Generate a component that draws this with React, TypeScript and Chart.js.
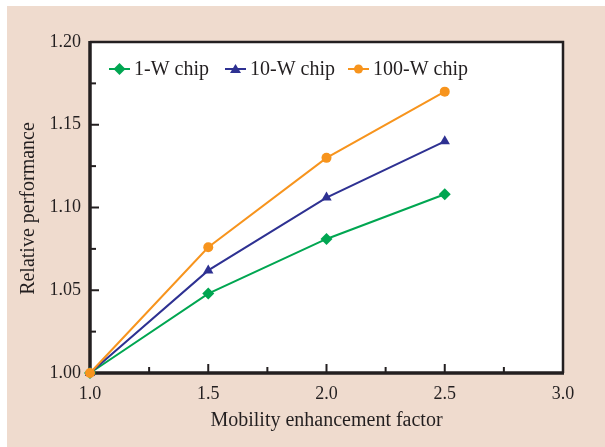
import React, { useEffect, useRef } from "react";
import { Chart, registerables } from "chart.js";

Chart.register(...registerables);

// Mobility enhancement factor (x) and relative performance per chip power
const mobilityFactors = [1.0, 1.5, 2.0, 2.5];
const perf1W = [1.0, 1.048, 1.081, 1.108];
const perf10W = [1.0, 1.062, 1.106, 1.14];
const perf100W = [1.0, 1.076, 1.13, 1.17];
const seriesLabels = ["1-W chip", "10-W chip", "100-W chip"];

const xTicks = [1.0, 1.5, 2.0, 2.5, 3.0];
const yTicks = [1.0, 1.05, 1.1, 1.15, 1.2];
const xMinorTicks = [1.25, 1.75, 2.25, 2.75];
const yMinorTicks = [1.025, 1.075, 1.125, 1.175];

const GREEN = "#00a651";
const BLUE = "#2e3192";
const ORANGE = "#f7941d";
const INK = "#231f20";
const BG = "#efdbce";
const FONT = "'Liberation Serif', 'Times New Roman', serif";

function toPoints(ys: number[]) {
  return mobilityFactors.map((x, i) => ({ x, y: ys[i] }));
}

// Frame, inward tick marks and axis titles
const framePlugin = {
  id: "frame",
  beforeDatasetsDraw(chart: any) {
    const { ctx, chartArea } = chart;
    const { left, right, top, bottom } = chartArea;
    const xs = chart.scales.x;
    const ys = chart.scales.y;
    ctx.save();
    ctx.fillStyle = "#ffffff";
    ctx.fillRect(left, top, right - left, bottom - top);
    ctx.strokeStyle = INK;
    ctx.lineCap = "butt";

    // ticks
    ctx.lineWidth = 2;
    const drawX = (v: number, len: number) => {
      const px = xs.getPixelForValue(v);
      ctx.beginPath();
      ctx.moveTo(px, bottom);
      ctx.lineTo(px, bottom - len);
      ctx.stroke();
    };
    const drawY = (v: number, len: number) => {
      const py = ys.getPixelForValue(v);
      ctx.beginPath();
      ctx.moveTo(left, py);
      ctx.lineTo(left + len, py);
      ctx.stroke();
    };
    xTicks.forEach((v) => drawX(v, 9));
    xMinorTicks.forEach((v) => drawX(v, 6));
    yTicks.forEach((v) => drawY(v, 9));
    yMinorTicks.forEach((v) => drawY(v, 6));

    // top and right border
    ctx.lineWidth = 2.5;
    ctx.beginPath();
    ctx.moveTo(left, top);
    ctx.lineTo(right, top);
    ctx.lineTo(right, bottom);
    ctx.stroke();
    // left and bottom axes
    ctx.lineWidth = 3.5;
    ctx.beginPath();
    ctx.moveTo(left, top - 1);
    ctx.lineTo(left, bottom);
    ctx.lineTo(right + 1, bottom);
    ctx.stroke();

    // axis titles
    ctx.fillStyle = INK;
    ctx.font = `20px ${FONT}`;
    ctx.textAlign = "center";
    ctx.textBaseline = "middle";
    ctx.fillText("Mobility enhancement factor", (left + right) / 2, 415);
    ctx.translate(22, (top + bottom) / 2 + 1);
    ctx.rotate(-Math.PI / 2);
    ctx.fillText("Relative performance", 0, 0);
    ctx.restore();
  },
  afterDraw(chart: any) {
    // legend: short line with marker, then label
    const { ctx } = chart;
    const items = [
      { x: 102, text: seriesLabels[0], ds: 0 },
      { x: 218, text: seriesLabels[1], ds: 1 },
      { x: 341, text: seriesLabels[2], ds: 2 },
    ];
    const y = 63;
    ctx.save();
    items.forEach((it) => {
      const d = chart.data.datasets[it.ds];
      ctx.strokeStyle = d.borderColor;
      ctx.lineWidth = 2;
      ctx.beginPath();
      ctx.moveTo(it.x, y);
      ctx.lineTo(it.x + 21, y);
      ctx.stroke();
      ctx.fillStyle = d.borderColor;
      const cx = it.x + 10.5;
      ctx.beginPath();
      if (d.pointStyle === "rectRot") {
        ctx.moveTo(cx, y - 6);
        ctx.lineTo(cx + 6, y);
        ctx.lineTo(cx, y + 6);
        ctx.lineTo(cx - 6, y);
      } else if (d.pointStyle === "triangle") {
        ctx.moveTo(cx, y - 5);
        ctx.lineTo(cx + 5.5, y + 4);
        ctx.lineTo(cx - 5.5, y + 4);
      } else {
        ctx.arc(cx, y, 4.5, 0, Math.PI * 2);
      }
      ctx.closePath();
      ctx.fill();
      ctx.fillStyle = INK;
      ctx.font = `20px ${FONT}`;
      ctx.textAlign = "left";
      ctx.textBaseline = "middle";
      ctx.fillText(it.text, it.x + 25, y + 1);
    });
    ctx.restore();
  },
};

export default function App() {
  const canvasRef = useRef<HTMLCanvasElement | null>(null);

  useEffect(() => {
    if (!canvasRef.current) return;
    const common = {
      showLine: true,
      borderWidth: 2,
      clip: false as any,
      tension: 0,
    };
    const chart = new Chart(canvasRef.current, {
      type: "scatter",
      data: {
        datasets: [
          {
            ...common,
            label: seriesLabels[0],
            data: toPoints(perf1W),
            borderColor: GREEN,
            backgroundColor: GREEN,
            pointStyle: "rectRot",
            pointRadius: 6,
            pointBorderWidth: 0,
            order: 2,
          },
          {
            ...common,
            label: seriesLabels[1],
            data: toPoints(perf10W),
            borderColor: BLUE,
            backgroundColor: BLUE,
            pointStyle: "triangle",
            pointRadius: 6,
            pointBorderWidth: 0,
            order: 1,
          },
          {
            ...common,
            label: seriesLabels[2],
            data: toPoints(perf100W),
            borderColor: ORANGE,
            backgroundColor: ORANGE,
            pointStyle: "circle",
            pointRadius: 5,
            pointBorderWidth: 0,
            order: 0,
          },
        ] as any,
      },
      options: {
        responsive: false,
        animation: false,
        layout: { padding: { top: 36, right: 42, left: 0, bottom: 0 } },
        plugins: {
          legend: { display: false },
          tooltip: { enabled: false },
        },
        scales: {
          x: {
            type: "linear",
            min: 1,
            max: 3,
            afterFit: (s: any) => {
              s.height = 74;
            },
            afterBuildTicks: (s: any) => {
              s.ticks = xTicks.map((v) => ({ value: v }));
            },
            grid: { display: false },
            border: { display: false },
            ticks: {
              padding: 2,
              color: INK,
              font: { family: FONT, size: 18 },
              callback: (v: any) => Number(v).toFixed(1),
              maxRotation: 0,
            },
          },
          y: {
            type: "linear",
            min: 1,
            max: 1.2,
            afterFit: (s: any) => {
              s.width = 83;
            },
            afterBuildTicks: (s: any) => {
              s.ticks = yTicks.map((v) => ({ value: v }));
            },
            grid: { display: false },
            border: { display: false },
            ticks: {
              padding: 1,
              color: INK,
              font: { family: FONT, size: 18 },
              callback: (v: any) => Number(v).toFixed(2),
            },
          },
        },
      },
      plugins: [framePlugin],
    } as any);
    return () => chart.destroy();
  }, []);

  return (
    <div
      style={{
        position: "absolute",
        left: 7,
        top: 6,
        width: 598,
        height: 441,
        background: BG,
      }}
    >
      <canvas ref={canvasRef} width={598} height={441} />
    </div>
  );
}
